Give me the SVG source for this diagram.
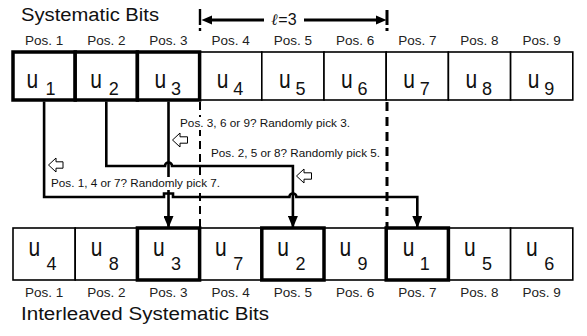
<svg xmlns="http://www.w3.org/2000/svg" width="587" height="336" viewBox="0 0 587 336">
  <style>
    text { font-family: "Liberation Sans", Arial, sans-serif; fill: #111; }
    .title { font-size: 18px; }
    .pos { font-size: 13.5px; fill: #222; text-anchor: middle; }
    .note { font-size: 11.5px; }
    .u { font-size: 21px; }
    .sub { font-size: 18px; }
    .cell { fill: #fff; stroke: #000; stroke-width: 1.6; }
    .cell.hi { stroke-width: 3.5; }
    .wire { fill: none; stroke: #000; stroke-width: 2.6; }
    .hollow { fill: #fff; stroke: #000; stroke-width: 1; }
    .notebg { fill: #fff; }
    .dash1 { stroke: #000; stroke-width: 2; stroke-dasharray: 8 5; }
    .dash2 { stroke: #000; stroke-width: 3; stroke-dasharray: 9 6; }
  </style>
  <defs>
    <marker id="ah" viewBox="0 0 12 10" refX="12" refY="5" markerWidth="12" markerHeight="10" orient="auto" markerUnits="userSpaceOnUse">
      <path d="M0 0 L12 5 L0 10 Z" fill="#000"/>
    </marker>
  </defs>

  <rect width="587" height="336" fill="#fff"/>

  <!-- headings -->
  <text class="title" x="21" y="21" textLength="138" lengthAdjust="spacingAndGlyphs">Systematic Bits</text>
  <text class="title" x="21" y="320" textLength="248" lengthAdjust="spacingAndGlyphs">Interleaved Systematic Bits</text>

  <!-- window span marker -->
  <g id="span">
    <line x1="200" y1="9" x2="200" y2="31" stroke="#000" stroke-width="2.4" stroke-dasharray="16 3 4 3"/>
    <line x1="387" y1="10" x2="387" y2="31" stroke="#000" stroke-width="3" stroke-dasharray="15 3 4 3"/>
    <line x1="210" y1="20" x2="264" y2="20" stroke="#000" stroke-width="3"/>
    <path d="M212 15.5 L201.5 20 L212 24.5 Z" fill="#000"/>
    <line x1="304" y1="20" x2="377" y2="20" stroke="#000" stroke-width="3"/>
    <path d="M376 15.5 L386.5 20 L376 24.5 Z" fill="#000"/>
    <text x="284" y="25" text-anchor="middle" font-size="16"><tspan font-family="'DejaVu Serif', 'Liberation Serif', serif" font-style="italic" font-weight="bold">ℓ</tspan>=3</text>
  </g>

  <!-- window boundaries -->
  <line class="dash1" x1="200" y1="102" x2="200" y2="228"/>
  <line class="dash2" x1="387" y1="102" x2="387" y2="228"/>

  <!-- top row: systematic bits -->
  <g id="top-labels">
    <text class="pos" x="44.1" y="45">Pos. 1</text>
    <text class="pos" x="106.3" y="45">Pos. 2</text>
    <text class="pos" x="168.5" y="45">Pos. 3</text>
    <text class="pos" x="230.7" y="45">Pos. 4</text>
    <text class="pos" x="292.9" y="45">Pos. 5</text>
    <text class="pos" x="355.1" y="45">Pos. 6</text>
    <text class="pos" x="417.3" y="45">Pos. 7</text>
    <text class="pos" x="479.5" y="45">Pos. 8</text>
    <text class="pos" x="541.7" y="45">Pos. 9</text>
  </g>
  <g id="t4"><rect class="cell" x="199.6" y="52" width="62.2" height="48"/><text class="u" transform="translate(216.7 88) scale(1 1.25)">u</text><text class="sub" x="233.2" y="95">4</text></g>
  <g id="t5"><rect class="cell" x="261.8" y="52" width="62.2" height="48"/><text class="u" transform="translate(278.9 88) scale(1 1.25)">u</text><text class="sub" x="295.4" y="95">5</text></g>
  <g id="t6"><rect class="cell" x="324" y="52" width="62.2" height="48"/><text class="u" transform="translate(341.1 88) scale(1 1.25)">u</text><text class="sub" x="357.6" y="95">6</text></g>
  <g id="t7"><rect class="cell" x="386.2" y="52" width="62.2" height="48"/><text class="u" transform="translate(403.3 88) scale(1 1.25)">u</text><text class="sub" x="419.8" y="95">7</text></g>
  <g id="t8"><rect class="cell" x="448.4" y="52" width="62.2" height="48"/><text class="u" transform="translate(465.5 88) scale(1 1.25)">u</text><text class="sub" x="482" y="95">8</text></g>
  <g id="t9"><rect class="cell" x="510.6" y="52" width="62.2" height="48"/><text class="u" transform="translate(527.7 88) scale(1 1.25)">u</text><text class="sub" x="544.2" y="95">9</text></g>
  <g id="t1"><rect class="cell hi" x="13" y="52" width="62.2" height="48"/><text class="u" transform="translate(26.5 88) scale(1 1.25)">u</text><text class="sub" x="45.6" y="95">1</text></g>
  <g id="t2"><rect class="cell hi" x="75.2" y="52" width="62.2" height="48"/><text class="u" transform="translate(90.3 88) scale(1 1.25)">u</text><text class="sub" x="108.8" y="95">2</text></g>
  <g id="t3"><rect class="cell hi" x="137.4" y="52" width="62.2" height="48"/><text class="u" transform="translate(154.5 88) scale(1 1.25)">u</text><text class="sub" x="171" y="95">3</text></g>

  <!-- bottom row: interleaved bits -->
  <g id="b1"><rect class="cell" x="13" y="228" width="62.2" height="52"/><text class="u" transform="translate(28.5 256) scale(1 1.25)">u</text><text class="sub" x="46.6" y="270">4</text></g>
  <g id="b2"><rect class="cell" x="75.2" y="228" width="62.2" height="52"/><text class="u" transform="translate(90.7 256) scale(1 1.25)">u</text><text class="sub" x="108.8" y="270">8</text></g>
  <g id="b4"><rect class="cell" x="199.6" y="228" width="62.2" height="52"/><text class="u" transform="translate(215.1 256) scale(1 1.25)">u</text><text class="sub" x="233.2" y="270">7</text></g>
  <g id="b6"><rect class="cell" x="324" y="228" width="62.2" height="52"/><text class="u" transform="translate(339.5 256) scale(1 1.25)">u</text><text class="sub" x="357.6" y="270">9</text></g>
  <g id="b8"><rect class="cell" x="448.4" y="228" width="62.2" height="52"/><text class="u" transform="translate(463.9 256) scale(1 1.25)">u</text><text class="sub" x="482" y="270">5</text></g>
  <g id="b9"><rect class="cell" x="510.6" y="228" width="62.2" height="52"/><text class="u" transform="translate(526.1 256) scale(1 1.25)">u</text><text class="sub" x="544.2" y="270">6</text></g>
  <g id="b3"><rect class="cell hi" x="137.4" y="228" width="62.2" height="52"/><text class="u" transform="translate(152.9 256) scale(1 1.25)">u</text><text class="sub" x="171" y="270">3</text></g>
  <g id="b5"><rect class="cell hi" x="261.8" y="228" width="62.2" height="52"/><text class="u" transform="translate(277.3 256) scale(1 1.25)">u</text><text class="sub" x="295.4" y="270">2</text></g>
  <g id="b7"><rect class="cell hi" x="386.2" y="228" width="62.2" height="52"/><text class="u" transform="translate(402.7 256) scale(1 1.25)">u</text><text class="sub" x="419.8" y="270">1</text></g>
  <g id="bottom-labels">
    <text class="pos" x="44.1" y="297">Pos. 1</text>
    <text class="pos" x="106.3" y="297">Pos. 2</text>
    <text class="pos" x="168.5" y="297">Pos. 3</text>
    <text class="pos" x="230.7" y="297">Pos. 4</text>
    <text class="pos" x="292.9" y="297">Pos. 5</text>
    <text class="pos" x="355.1" y="297">Pos. 6</text>
    <text class="pos" x="417.3" y="297">Pos. 7</text>
    <text class="pos" x="479.5" y="297">Pos. 8</text>
    <text class="pos" x="541.7" y="297">Pos. 9</text>
  </g>

  <!-- connectors: each bit routed to its picked position -->
  <g id="connectors">
    <path class="wire" d="M44.1 101.5 V197 H164 V193.5 H173 V197 H289.4 A3.5 3.5 0 0 1 296.4 197 H417.3 V228" marker-end="url(#ah)"/>
    <path class="wire" d="M106.3 101.5 V166 H165 A3.5 3.5 0 0 1 172 166 H292.9 V228" marker-end="url(#ah)"/>
    <path class="wire" d="M168.5 101.5 V228" marker-end="url(#ah)"/>
  </g>

  <!-- selection notes (opaque labels sit over the lines) -->
  <g id="note3">
    <rect class="notebg" x="178" y="117" width="174" height="13"/>
    <polygon class="hollow" points="172.5,140 180,133 180,136.8 187.5,136.8 187.5,143.2 180,143.2 180,147"/>
    <text class="note" x="180" y="127" textLength="170" lengthAdjust="spacingAndGlyphs">Pos. 3, 6 or 9? Randomly pick 3.</text>
  </g>
  <g id="note2">
    <rect class="notebg" x="209" y="147" width="173" height="13"/>
    <polygon class="hollow" points="296.5,176 304,169 304,172.8 311.5,172.8 311.5,179.2 304,179.2 304,183"/>
    <text class="note" x="211" y="157" textLength="169" lengthAdjust="spacingAndGlyphs">Pos. 2, 5 or 8? Randomly pick 5.</text>
  </g>
  <g id="note1">
    <rect class="notebg" x="49" y="177" width="173" height="13"/>
    <polygon class="hollow" points="48.5,165 56,158 56,161.8 63,161.8 63,168.2 56,168.2 56,172"/>
    <text class="note" x="51" y="187" textLength="169" lengthAdjust="spacingAndGlyphs">Pos. 1, 4 or 7? Randomly pick 7.</text>
  </g>
</svg>
